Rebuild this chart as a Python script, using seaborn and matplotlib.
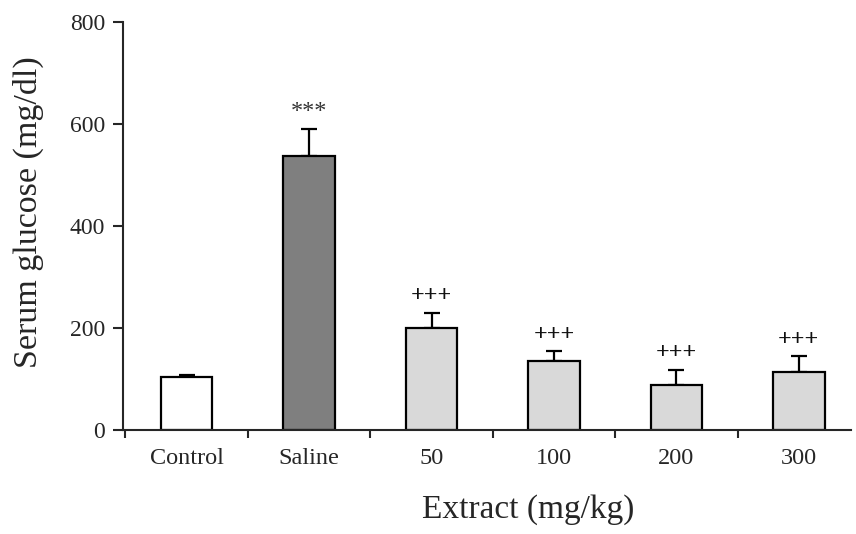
import matplotlib
matplotlib.use("Agg")
import matplotlib.pyplot as plt
import seaborn as sns
import pandas as pd
import numpy as np

categories = ["Control", "Saline", "50", "100", "200", "300"]
means = [103, 538, 199, 136, 88, 114]
sems = [4, 52, 30, 18, 30, 30]
marks = ["", "***", "+++", "+++", "+++", "+++"]
colors = ["#ffffff", "#7f7f7f", "#d9d9d9", "#d9d9d9", "#d9d9d9", "#d9d9d9"]
yticks = [0, 200, 400, 600, 800]

sns.set_style("ticks")
plt.rcParams["font.family"] = ["Liberation Serif", "DejaVu Serif"]

df = pd.DataFrame({"group": categories, "glucose": means})

fig = plt.figure(figsize=(8.56, 5.34), dpi=100)
ax = fig.add_axes([0.1437, 0.195, 0.851, 0.764])

sns.barplot(data=df, x="group", y="glucose", hue="group", palette=colors,
            order=categories, hue_order=categories, legend=False,
            errorbar=None, width=0.42, edgecolor="black", linewidth=1.6, ax=ax,
            zorder=2)

xpos = np.arange(len(categories))
ax.errorbar(xpos, means, yerr=[np.zeros(len(sems)), sems], fmt="none",
            ecolor="black", elinewidth=1.6, capsize=6, capthick=1.6, zorder=1)

for x, m, s, t in zip(xpos, means, sems, marks):
    if t:
        is_plus = t.startswith("+")
        ax.text(x, m + s + 13, t, ha="center", va="bottom", fontsize=17.5,
                color="#111111" if is_plus else "#333333",
                fontweight="bold" if is_plus else "normal")

ax.set_xlim(-0.52, 5.43)
ax.set_ylim(0, 800)
ax.set_yticks(yticks)
ax.set_yticklabels([str(v) for v in yticks], fontsize=17)
ax.set_xticks(xpos)
ax.set_xticklabels(categories, fontsize=17.5)
ax.tick_params(axis="x", which="major", length=0, pad=13)
ax.set_xticks(np.arange(-0.5, 5.5, 1.0), minor=True)
ax.tick_params(axis="x", which="minor", length=6, width=1.5, direction="out")
ax.tick_params(axis="y", length=7, width=1.5, direction="out", pad=6)

sns.despine(ax=ax)
for sp in ["left", "bottom"]:
    ax.spines[sp].set_linewidth(1.5)

ax.set_xlabel("Extract (mg/kg)", fontsize=24)
ax.set_ylabel("Serum glucose (mg/dl)", fontsize=24.5)
ax.xaxis.set_label_coords(0.556, -0.157)
ax.yaxis.set_label_coords(-0.108, 0.534)

fig.savefig("out.png", dpi=100, facecolor="white")
